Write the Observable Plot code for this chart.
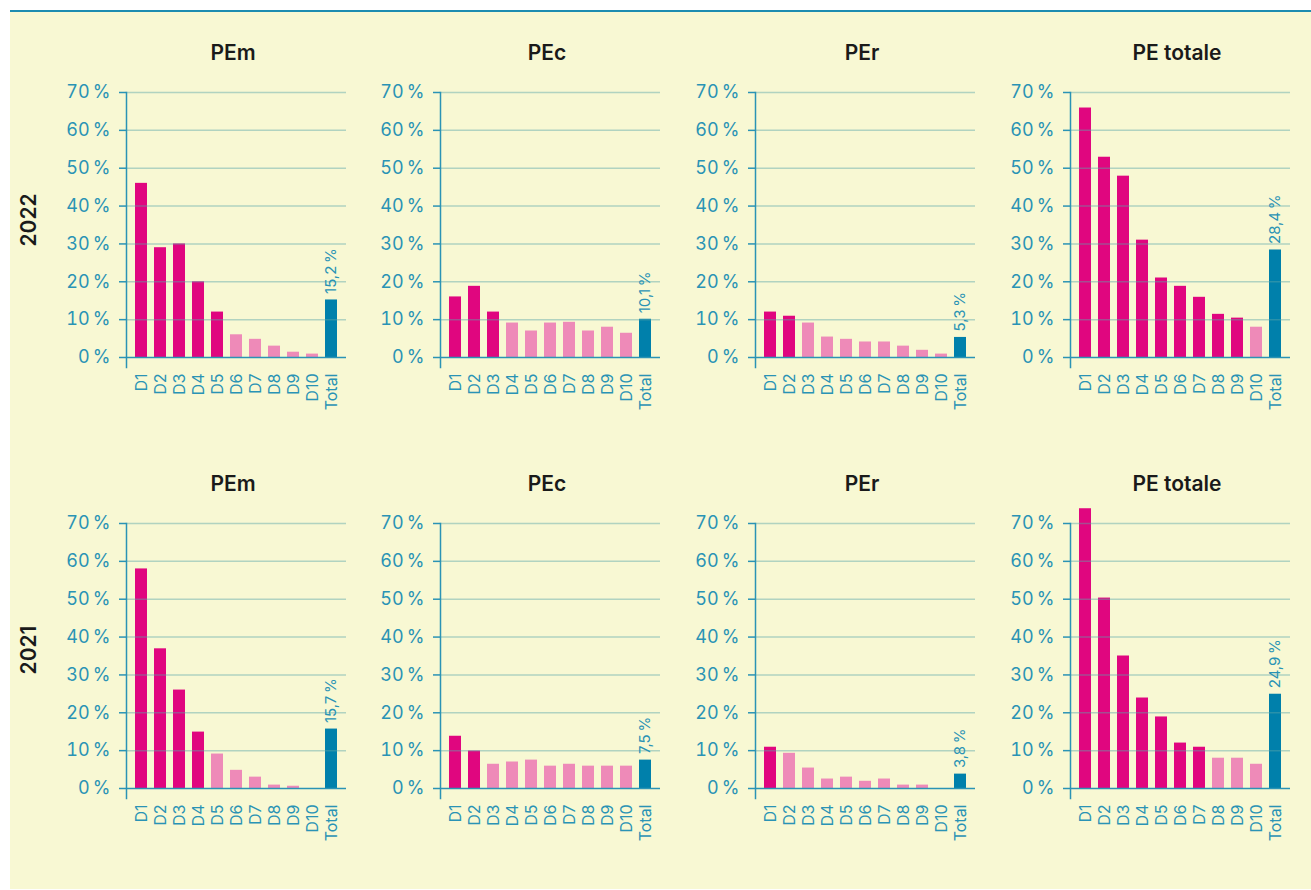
<!DOCTYPE html>
<html>
<head>
<meta charset="utf-8">
<script src="https://cdn.jsdelivr.net/npm/d3@7"></script>
<script src="https://cdn.jsdelivr.net/npm/@observablehq/plot@0.6"></script>
<style>
  html, body { margin: 0; padding: 0; background: #ffffff; }
  body { width: 1311px; height: 890px; position: relative; overflow: hidden; font-family: Inter, "Noto Sans", sans-serif; }
  #box { position: absolute; left: 10px; top: 10px; width: 1301px; height: 877px; background: #f8f8d3; border-top: 2px solid #1d8cb0; }
  .panel { position: absolute; }
  .title { position: absolute; font-weight: 600; font-size: 21px; color: #1a1a1a; transform: translate(-50%, -50%); white-space: nowrap; }
  .year { position: absolute; font-weight: 600; font-size: 21px; color: #1a1a1a; transform: translate(-50%, -50%) rotate(-90deg); white-space: nowrap; }
</style>
</head>
<body>
<div id="box"></div>
<script>
// ---- data ----
const deciles = ["D1", "D2", "D3", "D4", "D5", "D6", "D7", "D8", "D9", "D10", "Total"];
const measures = ["PEm", "PEc", "PEr", "PE totale"];
const years = ["2022", "2021"];

// values in %, D1..D10 then Total
const pem2022 = [46, 29, 30, 20, 12, 6, 4.8, 3, 1.4, 0.9, 15.2];
const pec2022 = [16, 18.8, 12, 9.1, 7, 9.1, 9.3, 7, 8, 6.4, 10.1];
const per2022 = [12, 10.9, 9.1, 5.4, 4.8, 4.1, 4.1, 3, 1.9, 0.9, 5.3];
const pet2022 = [65.9, 52.9, 47.9, 31, 21, 18.8, 15.9, 11.4, 10.4, 8, 28.4];
const pem2021 = [58, 36.9, 26, 14.9, 9.1, 4.8, 3, 0.9, 0.6, 0, 15.7];
const pec2021 = [13.8, 9.9, 6.4, 7, 7.5, 5.9, 6.4, 5.9, 5.9, 5.9, 7.5];
const per2021 = [10.9, 9.3, 5.4, 2.5, 3, 1.9, 2.5, 0.9, 0.9, 0, 3.8];
const pet2021 = [73.9, 50.3, 35, 23.9, 18.9, 12, 10.9, 8, 8, 6.4, 24.9];

// dark (1) / light (0) colouring of D1..D10
const pem2022Dark = [1, 1, 1, 1, 1, 0, 0, 0, 0, 0];
const pec2022Dark = [1, 1, 1, 0, 0, 0, 0, 0, 0, 0];
const per2022Dark = [1, 1, 0, 0, 0, 0, 0, 0, 0, 0];
const pet2022Dark = [1, 1, 1, 1, 1, 1, 1, 1, 1, 0];
const pem2021Dark = [1, 1, 1, 1, 0, 0, 0, 0, 0, 0];
const pec2021Dark = [1, 1, 0, 0, 0, 0, 0, 0, 0, 0];
const per2021Dark = [1, 0, 0, 0, 0, 0, 0, 0, 0, 0];
const pet2021Dark = [1, 1, 1, 1, 1, 1, 1, 0, 0, 0];

const yTicks = [0, 10, 20, 30, 40, 50, 60, 70];

const panels = [
  [pem2022, pem2022Dark], [pec2022, pec2022Dark], [per2022, per2022Dark], [pet2022, pet2022Dark],
  [pem2021, pem2021Dark], [pec2021, pec2021Dark], [per2021, per2021Dark], [pet2021, pet2021Dark]
];

// ---- styling / layout ----
const teal = "#2a93b5";
const colors = {domain: ["fort", "faible", "total"], range: ["#e0067f", "#ee8ab8", "#0080ab"]};
const axisXs = [126, 440, 755, 1070];
const rowTops = [47, 478];
const marginLeft = 86, marginTop = 45, plotH = 265, inset = 10, marginBottom = 60;

const fmt = v => v.toFixed(1).replace(".", ",") + "\u202f%";

panels.forEach(([vals, dark], k) => {
  const row = Math.floor(k / 4), col = k % 4;
  const data = deciles.map((d, i) => ({
    decile: d,
    value: vals[i],
    kind: i === 10 ? "total" : (dark[i] ? "fort" : "faible")
  }));
  const total = data.filter(d => d.kind === "total");

  const chart = Plot.plot({
    width: marginLeft + 220 + 10,
    height: marginTop + plotH + inset + marginBottom,
    marginLeft, marginRight: 10, marginTop, marginBottom,
    style: {background: "transparent", overflow: "visible", fontFamily: "Inter, 'Noto Sans', sans-serif"},
    x: {domain: deciles, paddingInner: 0.37, paddingOuter: 0.47, axis: null},
    y: {domain: [0, 70], insetBottom: inset, axis: null},
    color: colors,
    marks: [
      Plot.barY(data, {x: "decile", y: "value", fill: "kind"}),
      Plot.gridY(yTicks.filter(t => t > 0), {stroke: "#5aa6a8", strokeOpacity: 0.45, strokeWidth: 1.5}),
      Plot.ruleY([0], {stroke: teal, strokeWidth: 1.5}),
      Plot.axisY(yTicks, {
        tickSize: 7, tickPadding: 9, tickFormat: d => d + "\u202f%",
        fontSize: 18, color: teal, strokeWidth: 1.5, label: null
      }),
      Plot.frame({anchor: "left", stroke: teal, strokeWidth: 1.5}),
      Plot.axisX({tickRotate: -90, tickSize: 0, tickPadding: 6, fontSize: 16, color: teal, label: null}),
      Plot.text(total, {
        x: "decile", y: "value", text: d => fmt(d.value),
        rotate: -90, textAnchor: "start", dy: -6, fontSize: 15, fill: teal
      })
    ]
  });
  const wrap = document.createElement("div");
  wrap.className = "panel";
  wrap.style.left = (axisXs[col] - marginLeft) + "px";
  wrap.style.top = rowTops[row] + "px";
  wrap.appendChild(chart);
  document.body.appendChild(wrap);

  const t = document.createElement("div");
  t.className = "title";
  t.textContent = measures[col];
  t.style.left = (axisXs[col] + 107) + "px";
  t.style.top = (row === 0 ? 52 : 483) + "px";
  document.body.appendChild(t);
});

years.forEach((y, r) => {
  const el = document.createElement("div");
  el.className = "year";
  el.textContent = y;
  el.style.left = "28px";
  el.style.top = (r === 0 ? 220 : 650) + "px";
  document.body.appendChild(el);
});
</script>
</body>
</html>
